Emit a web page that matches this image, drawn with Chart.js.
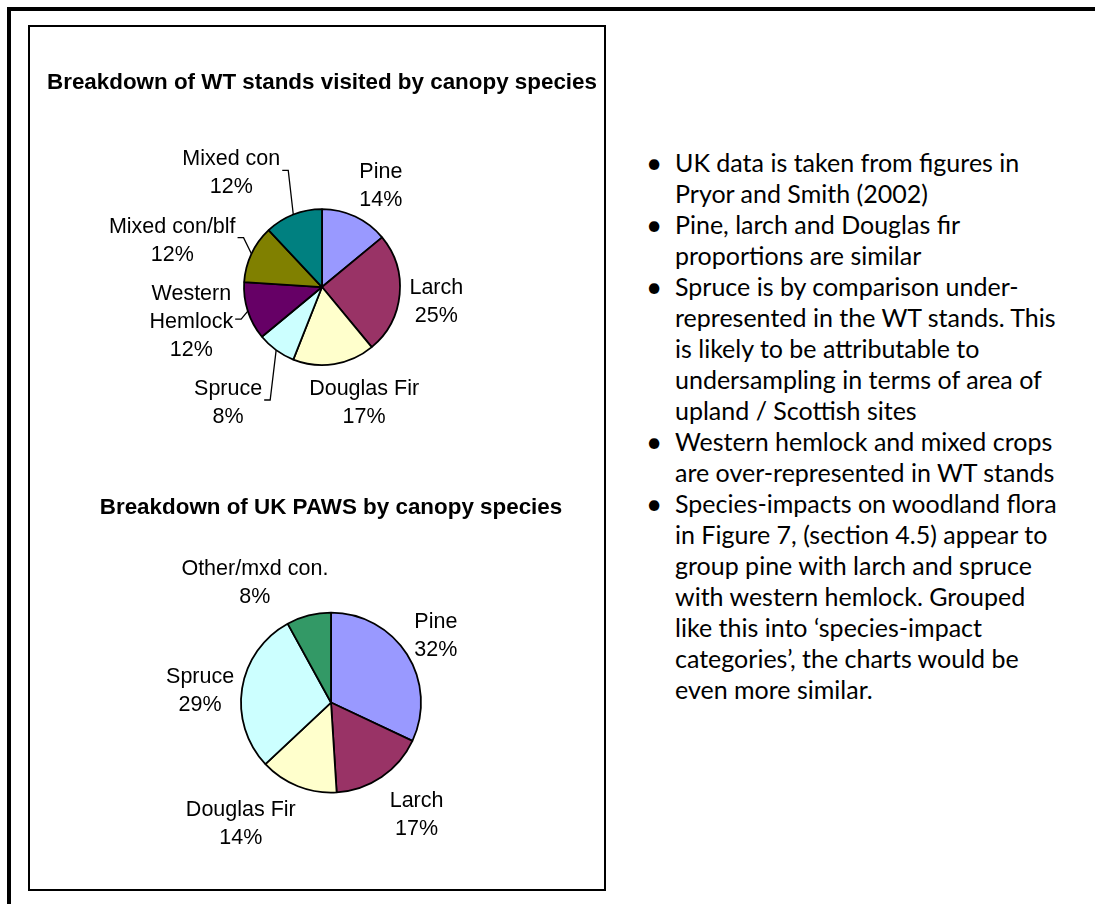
<!DOCTYPE html>
<html>
<head>
<meta charset="utf-8">
<script src="https://cdn.jsdelivr.net/npm/chart.js@4.4.1/dist/chart.umd.min.js"></script>
<style>
  html, body { margin: 0; padding: 0; background: #fff; }
  body { width: 1095px; height: 904px; position: relative; overflow: hidden; }
  #frame { position: absolute; left: 7px; top: 7px; width: 1200px; height: 1000px; border: 4px solid #000; }
  #panel { position: absolute; left: 28px; top: 25px; width: 578px; height: 866px; border: 2px solid #000; box-sizing: border-box; }
  .pie-box { position: absolute; left: 30px; width: 574px; }
  #wt-box { top: 27px; height: 456px; }
  #uk-box { top: 470px; height: 419px; }
  #notes { position: absolute; left: 640px; top: 147px; margin: 0; padding: 0; list-style: none;
           font-family: Lato, sans-serif; font-size: 25px; line-height: 31px; color: #000; white-space: nowrap; }
  #notes li { position: relative; padding-left: 35px; }
  #notes li::before { content: "\2022"; position: absolute; left: 6px; top: 0; font-size: 28px; }
</style>
</head>
<body>
<div id="frame"></div>
<div id="panel"></div>
<div class="pie-box" id="wt-box"><canvas id="pie-wt"></canvas></div>
<div class="pie-box" id="uk-box"><canvas id="pie-uk"></canvas></div>

<ul id="notes">
  <li>UK data is taken from figures in<br>Pryor and Smith (2002)</li>
  <li>Pine, larch and Douglas fir<br>proportions are similar</li>
  <li>Spruce is by comparison under-<br>represented in the WT stands. This<br>is likely to be attributable to<br>undersampling in terms of area of<br>upland / Scottish sites</li>
  <li>Western hemlock and mixed crops<br>are over-represented in WT stands</li>
  <li>Species-impacts on woodland flora<br>in Figure 7, (section 4.5) appear to<br>group pine with larch and spruce<br>with western hemlock. Grouped<br>like this into &lsquo;species-impact<br>categories&rsquo;, the charts would be<br>even more similar.</li>
</ul>

<script>
// WT stands visited, % by canopy species (clockwise from 12 o'clock)
const wtLabels = [['Pine'], ['Larch'], ['Douglas Fir'], ['Spruce'], ['Western', 'Hemlock'], ['Mixed con/blf'], ['Mixed con']];
const wtPercent = [14, 25, 17, 8, 12, 12, 12];

// UK PAWS, % by canopy species
const ukLabels = [['Pine'], ['Larch'], ['Douglas Fir'], ['Spruce'], ['Other/mxd con.']];
const ukPercent = [32, 17, 14, 29, 8];

const speciesColors = {
    'Pine': '#9999FF',
    'Larch': '#993366',
    'Douglas Fir': '#FFFFCC',
    'Spruce': '#CCFFFF',
    'Western': '#660066',
    'Mixed con/blf': '#808000',
    'Mixed con': '#008080',
    'Other/mxd con.': '#339966'
};

// draws "Name / nn%" outside each slice, with a leader line where asked
const sliceLabels = {
    id: 'sliceLabels',
    afterDatasetsDraw(chart, args, opts) {
        const ctx = chart.ctx;
        const meta = chart.getDatasetMeta(0);
        const values = chart.data.datasets[0].data;
        ctx.save();
        ctx.font = opts.font;
        ctx.fillStyle = '#000';
        ctx.strokeStyle = '#000';
        ctx.lineWidth = 1.3;
        ctx.textAlign = 'center';
        ctx.textBaseline = 'middle';
        meta.data.forEach(function (arc, i) {
            const lines = [].concat(chart.data.labels[i], values[i] + '%');
            const place = opts.placement[i] || {};
            const w = Math.max.apply(null, lines.map(t => ctx.measureText(t).width));
            const h = lines.length * opts.lineHeight;
            const mid = (arc.startAngle + arc.endAngle) / 2;
            const a = mid + (place.turn || 0) * Math.PI / 180;
            const ext = Math.abs(Math.cos(a)) * w / 2 + Math.abs(Math.sin(a)) * h / 2;
            const d = arc.outerRadius + (place.gap || 0) + ext;
            const lx = arc.x + Math.cos(a) * d;
            const ly = arc.y + Math.sin(a) * d;
            lines.forEach(function (t, k) {
                ctx.fillText(t, lx, ly - h / 2 + opts.lineHeight * (k + 0.5));
            });
            if (place.leader) {
                const ex = arc.x + Math.cos(mid) * arc.outerRadius;
                const ey = arc.y + Math.sin(mid) * arc.outerRadius;
                const hx = lx + w / 2 + 2, hy = ly - 3;
                ctx.beginPath();
                ctx.moveTo(hx, hy);
                ctx.lineTo(hx + 6, hy);
                ctx.lineTo(ex, ey);
                ctx.stroke();
            }
        });
        ctx.restore();
    }
};

function pieChart(canvasId, labels, values, title, radius, pad, titleTop, placement) {
    let ctx = document.getElementById(canvasId);
    return new Chart(ctx, {
        type: 'pie',
        data: {
            labels: labels,
            datasets: [{
                data: values,
                backgroundColor: labels.map(l => speciesColors[l[0]]),
                borderColor: '#000',
                borderWidth: 1.8
            }]
        },
        options: {
            responsive: true,
            maintainAspectRatio: false,
            animation: false,
            radius: radius,
            layout: { padding: pad },
            plugins: {
                legend: { display: false },
                tooltip: { enabled: false },
                title: {
                    display: true,
                    text: title,
                    color: '#000',
                    font: { family: 'Arial, "Liberation Sans", sans-serif', size: 22.4, weight: 'bold', lineHeight: 1.2 },
                    padding: { top: titleTop, bottom: 0 }
                },
                sliceLabels: {
                    font: '21.5px Arial, "Liberation Sans", sans-serif',
                    lineHeight: 28,
                    placement: placement
                }
            }
        },
        plugins: [sliceLabels]
    });
}

pieChart('pie-wt', wtLabels, wtPercent, 'Breakdown of WT stands visited by canopy species', 78,
    { left: 10, right: 0, top: 0, bottom: 5.4 }, 42.6,
    [{ gap: 4, turn: 5 }, { gap: 7, turn: 2 }, { gap: 0, turn: -11 },
     { gap: 28, turn: 3, leader: true }, { gap: 6, turn: 3, leader: true },
     { gap: 10, turn: -8, leader: true }, { gap: 15, turn: -17, leader: true }]);

pieChart('pie-uk', ukLabels, ukPercent, 'Breakdown of UK PAWS by canopy species', 90,
    { left: 28, right: 0, top: 0, bottom: 5.1 }, 24.3,
    [{ gap: 1, turn: 0 }, { gap: 13, turn: -3 }, { gap: 6, turn: 15 },
     { gap: 5, turn: -4 }, { gap: -11, turn: -18 }]);
</script>
</body>
</html>
